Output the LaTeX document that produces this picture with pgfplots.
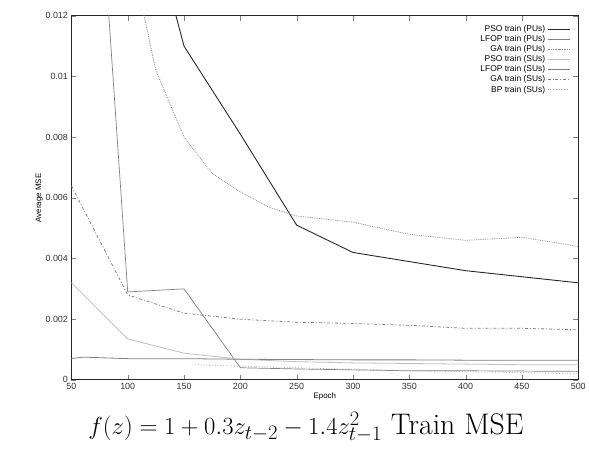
\documentclass[border=0pt]{standalone}
\usepackage{pgfplots}
\pgfplotsset{compat=1.18}
\usepackage{fontspec}
\newfontfamily\hv{Liberation Sans}
\begin{document}
\begin{tikzpicture}
\begin{axis}[
  scale only axis,
  width=511pt, height=367pt,
  xmin=50, xmax=500, ymin=0, ymax=0.012,
  xtick={50,100,...,500},
  ytick={0,0.002,0.004,0.006,0.008,0.01,0.012},
  scaled y ticks=false,
  yticklabel style={/pgf/number format/fixed,/pgf/number format/precision=3},
  /pgf/number format/assume math mode=true,
  tick label style={font=\hv\fontsize{9}{10}\selectfont, text=black!80},
  xtick pos=both, ytick pos=both,
  tick align=inside,
  major tick length=5pt,
  axis line style={black!85, line width=0.9pt},
  xlabel={Epoch}, xlabel style={font=\hv\fontsize{8}{9}\selectfont, yshift=4pt},
  ylabel={Average MSE}, ylabel style={font=\hv\fontsize{8}{9}\selectfont, yshift=-4pt},
  legend style={draw=none, fill=none, at={(0.99,0.985)}, anchor=north east,
    font=\hv\fontsize{8.5}{10}\selectfont, row sep=-1.5pt},
  legend cell align=right,
  legend plot pos=right,
  legend image post style={xscale=1.3},
]
\addplot[black!85, line width=0.9pt] coordinates {(100,0.018) (150,0.011) (200,0.0081) (250,0.0051) (300,0.0042) (350,0.0039) (400,0.0036) (450,0.0034) (500,0.0032)};
\addlegendentry{PSO train (PUs)}
\addplot[black!50, line width=0.7pt] coordinates {(50,0.03) (100,0.0029) (150,0.0030) (200,0.0004) (250,0.00036) (300,0.00033) (350,0.0003) (400,0.0003) (450,0.00029) (500,0.00028)};
\addlegendentry{LFOP train (PUs)}
\addplot[black!45, line width=0.8pt, densely dotted] coordinates {(100,0.0145) (125,0.0102) (150,0.0080) (175,0.0068) (200,0.0062) (225,0.0057) (250,0.0054) (300,0.0052) (350,0.0048) (400,0.0046) (450,0.0047) (500,0.0044)};
\addlegendentry{GA train (PUs)}
\addplot[black!25, line width=0.8pt] coordinates {(50,0.0032) (100,0.00135) (150,0.00088) (200,0.00068) (250,0.0006) (300,0.00056) (350,0.00054) (400,0.00052) (450,0.0005) (500,0.0005)};
\addlegendentry{PSO train (SUs)}
\addplot[black!50, line width=0.8pt] coordinates {(50,0.0007) (60,0.00075) (100,0.0007) (150,0.0007) (200,0.00068) (250,0.00067) (300,0.00066) (350,0.00066) (400,0.00065) (450,0.00065) (500,0.00065)};
\addlegendentry{LFOP train (SUs)}
\addplot[black!50, line width=0.8pt, dash pattern=on 3pt off 2pt on 1pt off 2pt] coordinates {(50,0.0064) (100,0.0028) (150,0.0022) (200,0.0020) (250,0.0019) (300,0.00186) (350,0.0018) (400,0.0017) (450,0.0017) (500,0.00165)};
\addlegendentry{GA train (SUs)}
\addplot[black!35, line width=0.8pt, dotted] coordinates {(160,0.0005) (200,0.00045) (250,0.0004) (300,0.00035) (350,0.0003) (400,0.00027) (450,0.00024) (500,0.0002)};
\addlegendentry{BP train (SUs)}
\end{axis}
\node[anchor=base, font=\fontsize{30}{35}\selectfont] at ([xshift=-19pt,yshift=-55pt]current axis.south) {$f(z)=1+0.3z_{t-2}-1.4z^{2}_{t-1}$ Train MSE};
\path[use as bounding box] ([shift={(-72pt,-70pt)}]current axis.south west) rectangle ([shift={(6pt,16pt)}]current axis.north east);
\end{tikzpicture}
\end{document}
